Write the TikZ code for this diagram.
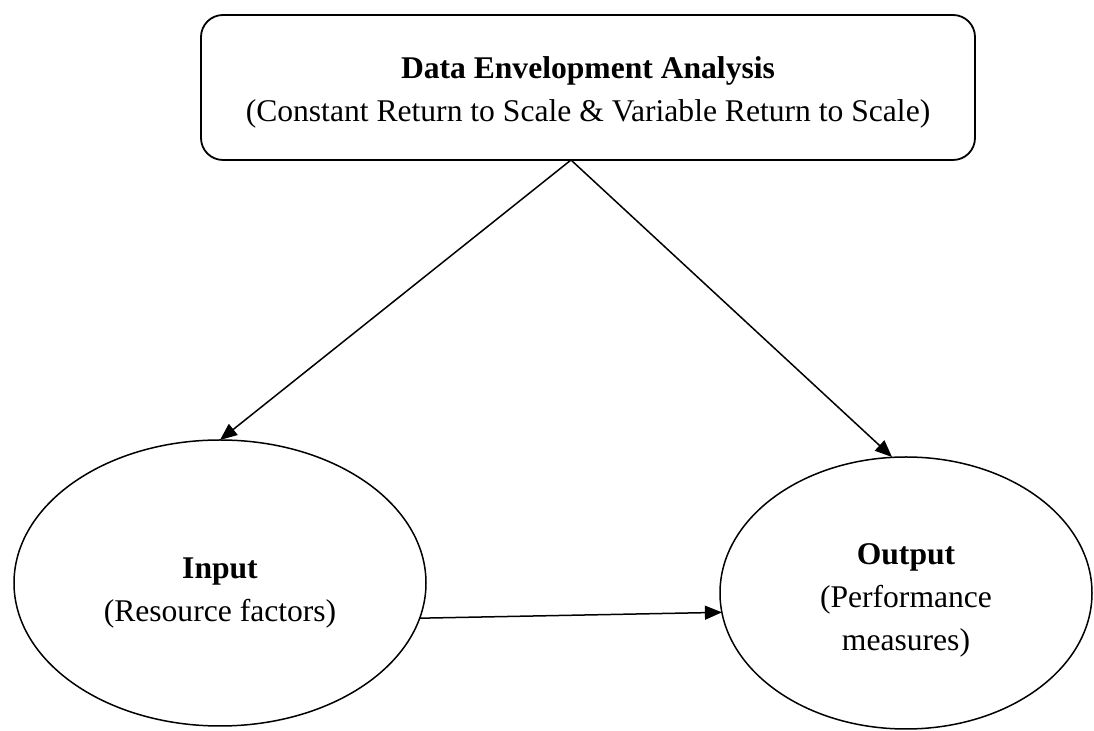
\documentclass[tikz,border=0pt]{standalone}
\usepackage{fontspec}
\setmainfont{Liberation Serif}
\usetikzlibrary{shapes.geometric,arrows.meta,positioning}

\begin{document}
\begin{tikzpicture}[
    node distance=1.2cm,
    font=\fontsize{15.8}{21.5}\selectfont,
    box/.style={rectangle, draw, line width=0.9pt, rounded corners=11pt, minimum width=387pt, minimum height=72.5pt, align=center, outer sep=0pt},
    oval/.style={ellipse, draw, line width=0.75pt, align=center, inner sep=0pt, outer sep=0pt},
    arrow/.style={-{Triangle[length=8.5pt,width=7pt]}, line width=0.75pt}
]
\useasboundingbox (0,0) rectangle (547pt,-365.5pt);

% Model
\node[box] (dea) at (294pt,-43.75pt) {\rule{0pt}{16pt}\textbf{Data Envelopment Analysis}\\(Constant Return to Scale \& Variable Return to Scale)};

% Input and output
\node[oval, minimum width=206pt, minimum height=143pt, below=140pt of dea, xshift=-184pt] (input) {\rule{0pt}{20pt}\textbf{Input}\\(Resource factors)};
\node[oval, minimum width=186pt, minimum height=136pt, below=148.5pt of dea, xshift=159pt] (output) {\rule{0pt}{18pt}\textbf{Output}\\(Performance\\measures)};

% Arrows
\coordinate (fork) at ([xshift=-8.5pt]dea.south);
\draw[arrow] (fork) -- (input.north);
\draw[arrow] (fork) -- ([xshift=-7pt]output.north);
\draw[arrow] (input.-10.5) -- (output.186);

\end{tikzpicture}
\end{document}
